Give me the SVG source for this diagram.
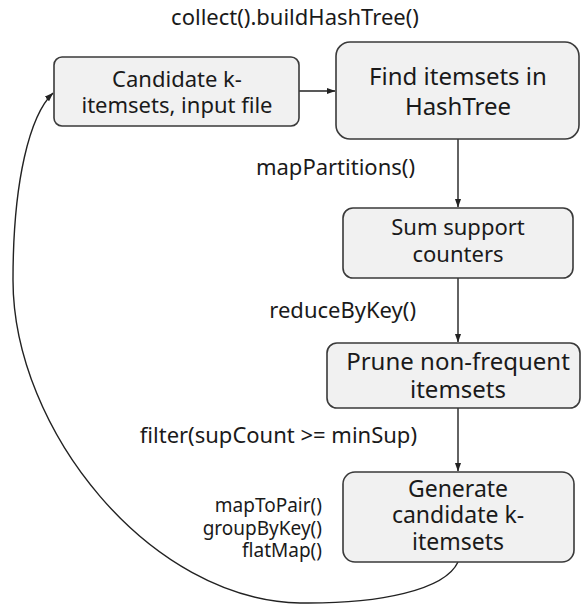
<svg xmlns="http://www.w3.org/2000/svg" width="581" height="606" viewBox="0 0 581 606">
  <style>
    .box { fill: #f1f1f1; stroke: #3a3a3a; stroke-width: 1.6; }
    .node-text { font-family: "Noto Sans", "Open Sans", sans-serif; fill: #1a1a1a; text-anchor: middle; }
    .label { font-family: "Noto Sans", "Open Sans", sans-serif; fill: #1a1a1a; font-size: 22px; }
    .small { font-family: "Noto Sans", "Open Sans", sans-serif; fill: #1a1a1a; font-size: 19px; text-anchor: end; }
    .edge { fill: none; stroke: #222; stroke-width: 1.4; }
  </style>
  <defs>
    <marker id="arrow" markerWidth="9" markerHeight="8" refX="8.5" refY="4" orient="auto" markerUnits="userSpaceOnUse">
      <path d="M0,0.8 L9,4 L0,7.2 z" fill="#222"/>
    </marker>
  </defs>

  <rect width="581" height="606" fill="#ffffff"/>

  <!-- connectors -->
  <g id="connectors">
    <path class="edge" d="M299,91 L335,91" marker-end="url(#arrow)"/>
    <path class="edge" d="M458,139 L458,207" marker-end="url(#arrow)"/>
    <path class="edge" d="M458,278 L458,342" marker-end="url(#arrow)"/>
    <path class="edge" d="M458,408 L458,471" marker-end="url(#arrow)"/>
    <path class="edge" d="M458,562 C445,590 380,604 300,603 C150,600 13,430 13,280 C13,180 30,115 53,93" marker-end="url(#arrow)"/>
  </g>

  <!-- edge labels -->
  <g id="labels">
    <text class="label" x="295" y="25" text-anchor="middle" font-size="23">collect().buildHashTree()</text>
    <text class="label" x="415" y="175" text-anchor="end">mapPartitions()</text>
    <text class="label" x="416" y="318" text-anchor="end">reduceByKey()</text>
    <text class="label" x="417" y="443" text-anchor="end">filter(supCount &gt;= minSup)</text>
    <text class="small" x="322" y="512">mapToPair()</text>
    <text class="small" x="322" y="535">groupByKey()</text>
    <text class="small" x="322" y="557">flatMap()</text>
  </g>

  <!-- nodes -->
  <g id="candidate-input">
    <rect class="box" x="54" y="57" width="245" height="69" rx="8"/>
    <text class="node-text" font-size="22" x="177" y="87">Candidate k-</text>
    <text class="node-text" font-size="22" x="177" y="113">itemsets, input file</text>
  </g>

  <g id="find-itemsets">
    <rect class="box" x="336" y="42" width="243" height="97" rx="14"/>
    <text class="node-text" font-size="24" x="458" y="85">Find itemsets in</text>
    <text class="node-text" font-size="24" x="458" y="115">HashTree</text>
  </g>

  <g id="sum-support">
    <rect class="box" x="343" y="208" width="230" height="70" rx="10"/>
    <text class="node-text" font-size="22" x="458" y="235">Sum support</text>
    <text class="node-text" font-size="22" x="458" y="262">counters</text>
  </g>

  <g id="prune">
    <rect class="box" x="327" y="343" width="253" height="65" rx="10"/>
    <text class="node-text" font-size="24" x="458" y="370">Prune non-frequent</text>
    <text class="node-text" font-size="24" x="458" y="398">itemsets</text>
  </g>

  <g id="generate">
    <rect class="box" x="343" y="472" width="231" height="90" rx="12"/>
    <text class="node-text" font-size="23" x="458" y="497">Generate</text>
    <text class="node-text" font-size="23" x="458" y="523">candidate k-</text>
    <text class="node-text" font-size="23" x="458" y="550">itemsets</text>
  </g>
</svg>
